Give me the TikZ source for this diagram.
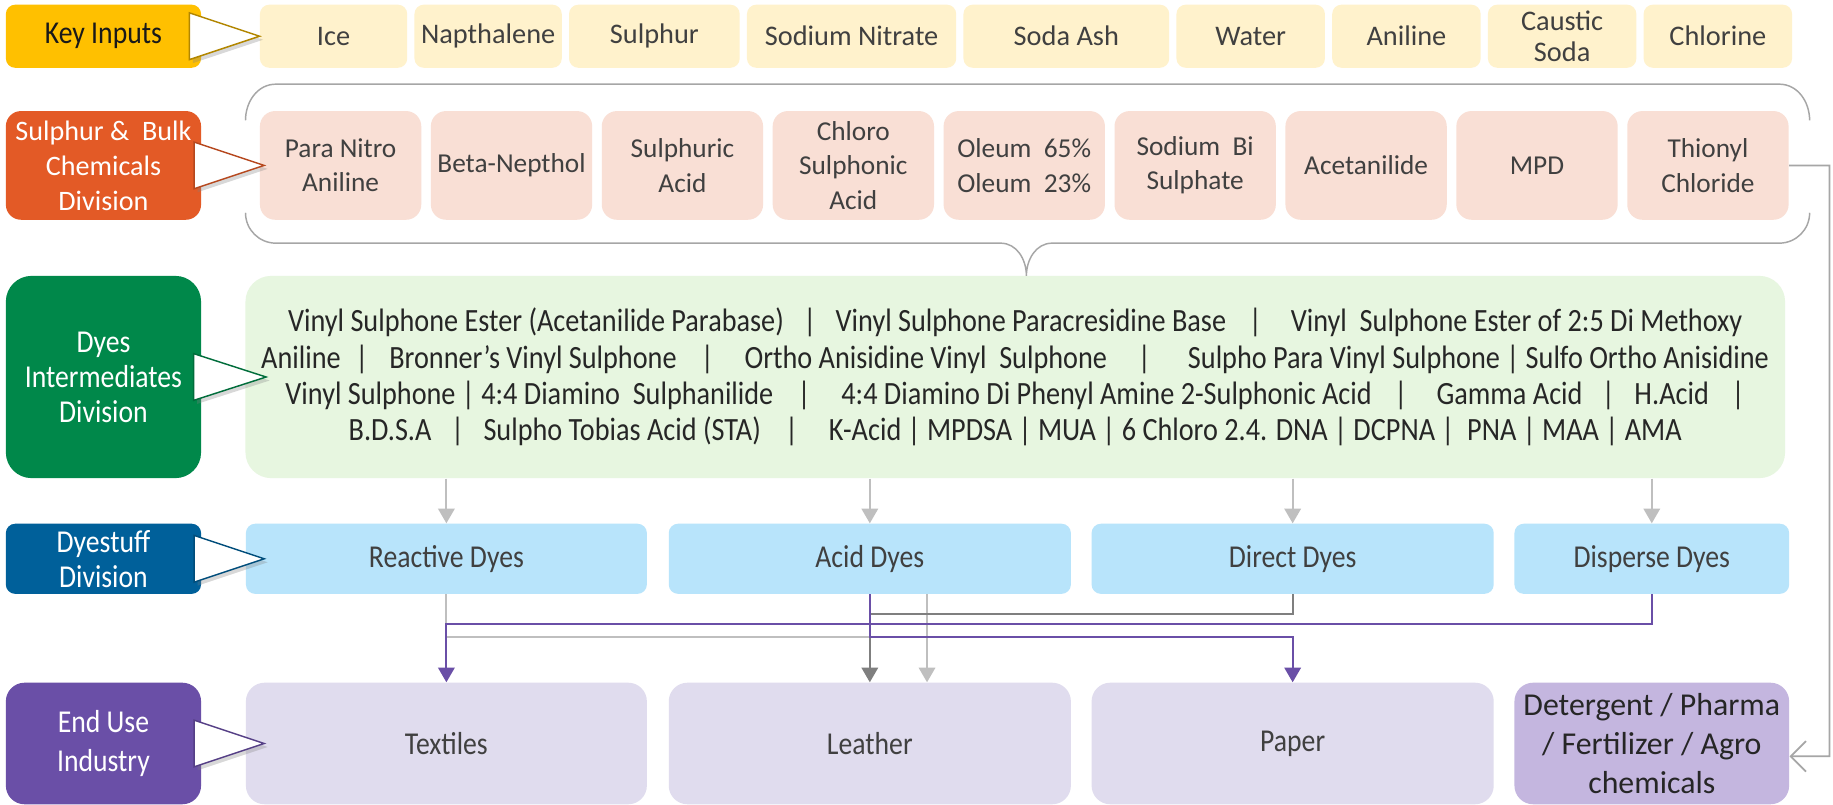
\documentclass[tikz,border=0pt]{standalone}
\usepackage{fontspec}
\setmainfont{Carlito}
\newfontfamily\narrowfont[FakeStretch=0.87]{Carlito}
\usetikzlibrary{positioning,arrows.meta,shadows}

\definecolor{keyc}{HTML}{FFC000}
\definecolor{keyfill}{HTML}{FFF2CC}
\definecolor{sulc}{HTML}{E35A26}
\definecolor{sulfill}{HTML}{F9DFD5}
\definecolor{intc}{HTML}{00884A}
\definecolor{intfill}{HTML}{E7F6E0}
\definecolor{dyec}{HTML}{00609A}
\definecolor{dyefill}{HTML}{B8E4FB}
\definecolor{usec}{HTML}{6A4FA7}
\definecolor{usefill}{HTML}{E0DCEE}
\definecolor{detfill}{HTML}{C4B6DF}
\definecolor{txt}{HTML}{404040}
\definecolor{lgrey}{HTML}{BFBFBF}
\definecolor{dgrey}{HTML}{7F7F7F}
\definecolor{brgrey}{HTML}{A6A6A6}

\newcommand\vsep[1][0.6em]{\hspace{#1}|\hspace{#1}}

\begin{document}
\begin{tikzpicture}[x=0.2mm, y=-0.2mm,
  font=\fontsize{13.3}{16}\selectfont,
  box/.style={rectangle, inner sep=1pt, align=center, text=txt},
  lbl/.style={box, minimum width=33.4mm, text=white, font=\narrowfont\fontsize{15.5}{17}\selectfont},
  inbox/.style={box, rounded corners=1.6mm, fill=keyfill, minimum height=10.8mm, font=\fontsize{13.8}{14.8}\selectfont},
  chembox/.style={box, rounded corners=2.6mm, fill=sulfill, minimum width=27.6mm, minimum height=18.6mm, font=\fontsize{13.3}{16.8}\selectfont},
  dyebox/.style={box, rounded corners=1.6mm, fill=dyefill, minimum height=12mm, font=\narrowfont\fontsize{15.5}{18}\selectfont},
  indbox/.style={box, rounded corners=3.2mm, fill=usefill, minimum height=20.8mm, font=\narrowfont\fontsize{15.5}{18}\selectfont},
  callout/.style={draw=#1, fill=white, line width=0.7pt, line join=miter,
                  drop shadow={opacity=0.3, shadow xshift=0.6mm, shadow yshift=-0.6mm}},
  brk/.style={draw=brgrey, line width=0.25mm},
  arr/.style={-{Triangle[length=2.5mm,width=2.8mm]}},
  feed/.style={draw=lgrey, line width=0.35mm, arr},
  lgline/.style={draw=lgrey, line width=0.35mm},
  dgline/.style={draw=dgrey, line width=0.35mm},
  puline/.style={draw=usec, line width=0.35mm},
  back/.style={draw=brgrey, line width=0.3mm, -{Straight Barb[length=2.6mm,width=5.2mm]}}
]
\useasboundingbox (0,0) rectangle (1568,688);
\fill[white] (0,0) rectangle (1568,688);

\node[lbl, fill=keyc, text=black!90, minimum height=10.8mm, rounded corners=1.6mm] (keyl) at (88.5,31) {Key Inputs};
\node[lbl, fill=sulc, minimum height=18.6mm, rounded corners=2.6mm, font=\fontsize{13.7}{17}\selectfont] (sull) at (88.5,141.5) {Sulphur \&~~Bulk\\Chemicals\\Division};
\node[lbl, fill=intc, minimum height=34.6mm, rounded corners=4.4mm] (intl) at (88.5,322.5) {Dyes\\Intermediates\\Division};
\node[lbl, fill=dyec, minimum height=12mm, rounded corners=1.6mm] (dyel) at (88.5,478) {Dyestuff\\Division};
\node[lbl, fill=usec, minimum height=20.8mm, rounded corners=3.2mm, font=\narrowfont\fontsize{15.5}{19.3}\selectfont] (usel) at (88.5,636) {End Use\\Industry};

\node[inbox, minimum width=25.2mm, anchor=west] (ice) at (222,31) {Ice};
\node[inbox, minimum width=25.2mm, right=1.1mm of ice] (napth) {Napthalene};
\node[inbox, minimum width=29.2mm, right=1.1mm of napth] (sulph) {Sulphur};
\node[inbox, minimum width=35.8mm, right=1.1mm of sulph] (nitr) {Sodium Nitrate};
\node[inbox, minimum width=35.2mm, right=1.1mm of nitr] (ash) {Soda Ash};
\node[inbox, minimum width=25.4mm, right=1.1mm of ash] (water) {Water};
\node[inbox, minimum width=25.4mm, right=1.1mm of water] (anil) {Aniline};
\node[inbox, minimum width=25.4mm, right=1.1mm of anil] (caus) {Caustic\\Soda};
\node[inbox, minimum width=25.4mm, right=1.1mm of caus] (chlor) {Chlorine};

\node[chembox, anchor=west] (pna) at (222,141.5) {Para Nitro\\Aniline};
\node[chembox, right=1.5mm of pna] (beta) {Beta-Nepthol};
\node[chembox, right=1.5mm of beta] (sacid) {Sulphuric\\Acid};
\node[chembox, right=1.5mm of sacid] (chsa) {Chloro\\Sulphonic\\Acid};
\node[chembox, right=1.5mm of chsa] (oleum) {Oleum~~65\%\\Oleum~~23\%};
\node[chembox, right=1.5mm of oleum] (sbs) {Sodium~~Bi\\Sulphate};
\node[chembox, right=1.5mm of sbs] (acet) {Acetanilide};
\node[chembox, right=1.5mm of acet] (mpd) {MPD};
\node[chembox, right=1.5mm of mpd] (thio) {Thionyl\\Chloride};

\node[box, fill=intfill, rounded corners=4.4mm, minimum width=263.4mm, minimum height=34.6mm, text=black!85,
      font=\narrowfont\fontsize{15.8}{17.6}\selectfont] (inter) at (868.5,322.5)
  {Vinyl Sulphone Ester (Acetanilide Parabase)\vsep Vinyl Sulphone Paracresidine Base\vsep[0.7em] Vinyl~~Sulphone Ester of 2:5 Di Methoxy\\
   Aniline\vsep[0.45em] Bronner’s Vinyl Sulphone\vsep[0.75em] Ortho Anisidine Vinyl~~Sulphone\vsep[0.95em] Sulpho Para Vinyl Sulphone | Sulfo Ortho Anisidine\\
   Vinyl Sulphone | 4:4 Diamino~~Sulphanilide\vsep[0.75em] 4:4 Diamino Di Phenyl Amine 2-Sulphonic Acid\vsep[0.7em] Gamma Acid\vsep H.Acid\hspace{0.7em}|\\
   B.D.S.A\vsep Sulpho Tobias Acid (STA)\vsep[0.75em] K-Acid | MPDSA | MUA | 6 Chloro 2.4. DNA | DCPNA |~~PNA | MAA | AMA};

\node[dyebox, minimum width=68.6mm, anchor=west] (react) at (210,478) {Reactive Dyes};
\node[dyebox, minimum width=68.8mm, right=3.6mm of react] (acid) {Acid Dyes};
\node[dyebox, minimum width=68.8mm, right=3.4mm of acid] (direct) {Direct Dyes};
\node[dyebox, minimum width=47mm, right=3.4mm of direct] (disp) {Disperse Dyes};

\node[indbox, minimum width=68.6mm, anchor=west] (tex) at (210,636) {Textiles};
\node[indbox, minimum width=68.8mm, right=3.6mm of tex] (leath) {Leather};
\node[indbox, minimum width=68.8mm, right=3.4mm of leath] (paper) {Paper};
\node[indbox, minimum width=47mm, right=3.4mm of paper, fill=detfill, text=black!85,
      font=\fontsize{15.5}{18.8}\selectfont] (det) {Detergent / Pharma\\/ Fertilizer / Agro\\chemicals};

\draw[callout=keyc!70!black] (ice.west) -- ++(-60,-20) -- ++(0,40) -- cycle;
\draw[callout=sulc!80!black] ([xshift=0.8mm]pna.west) -- ++(-60,-20) -- ++(0,40) -- cycle;
\draw[callout=intc!80!black] ([xshift=3.6mm]inter.west) -- ++(-62,-20) -- ++(0,40) -- cycle;
\draw[callout=dyec!80!black] ([xshift=3.2mm]react.west) -- ++(-60,-20) -- ++(0,40) -- cycle;
\draw[callout=usec!80!black] ([xshift=3.2mm]tex.west) -- ++(-60,-20) -- ++(0,40) -- cycle;

\draw[brk] (210,103) to[out=90,in=180] (236,72) -- (1522,72) to[out=0,in=90] (1548,103);
\draw[brk] (210,182) to[out=-90,in=180] (236,208) -- (856,208) to[out=0,in=90] (878,236)
           to[out=90,in=180] (900,208) -- (1522,208) to[out=0,in=-90] (1548,182);

\foreach \d in {react,acid,direct,disp}
  \draw[feed] (inter.south -| \d.north) -- (\d.north);

\coordinate (rdg) at (0,525);
\coordinate (rpu) at (0,534);
\coordinate (rlg) at (0,545);
\coordinate (lgx) at (793,0);
\coordinate (rgx) at (1565,647);

\draw[lgline] (react.south) |- (rlg -| lgx);
\draw[lgline, arr] (acid.south -| lgx) -- (leath.north -| lgx);
\draw[dgline] (acid.south) -- (rdg -| acid.south);
\draw[dgline, arr] (direct.south) |- (rdg -| leath.north) -- (leath.north);
\draw[puline, arr] (disp.south) |- (rpu -| tex.north) -- (tex.north);
\draw[puline, arr] (acid.south) |- (rlg -| paper.north) -- (paper.north);
\draw[back] (thio.east) -| (rgx) -- ([yshift=-2.2mm]det.east);
\end{tikzpicture}
\end{document}
